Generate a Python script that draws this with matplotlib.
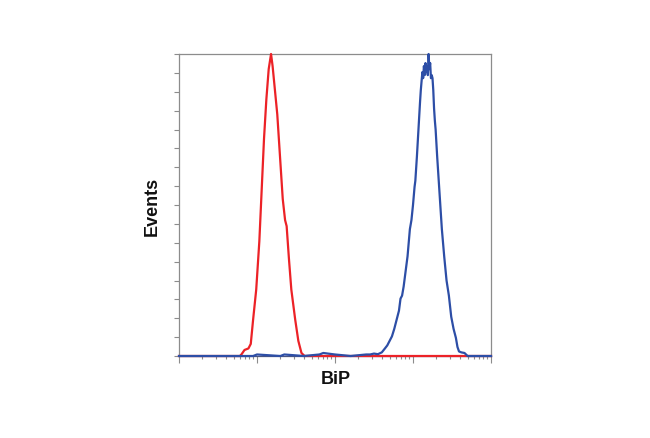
import matplotlib
matplotlib.use("Agg")
import matplotlib.pyplot as plt
from matplotlib.ticker import LogLocator, NullFormatter, FixedLocator
import numpy as np

# Log10 positions of intensity and % of max events
red_log_x = [0.00, 0.78, 0.80, 0.84, 0.89, 0.92, 0.95, 0.99, 1.03, 1.06, 1.09, 1.12, 1.15, 1.18,
             1.20, 1.23, 1.26, 1.29, 1.33, 1.36, 1.38, 1.41, 1.44, 1.49, 1.53, 1.57, 1.61, 4.00]
red_y = [0, 0, 0.5, 2, 2.5, 4, 12, 22, 38, 55, 72, 85, 95, 100,
         96, 88, 80, 68, 52, 45, 43, 32, 22, 12, 5, 1, 0, 0]

blue_log_x = [0.00, 0.95, 1.00, 1.30, 1.35, 1.60, 1.80, 1.85, 2.00, 2.20, 2.40, 2.45, 2.50, 2.55,
              2.60, 2.64, 2.67, 2.70, 2.73, 2.76, 2.79, 2.82, 2.84, 2.86, 2.88, 2.90, 2.93,
              2.96, 2.98, 3.00, 3.02, 3.03, 3.05, 3.07, 3.09, 3.10, 3.11, 3.12, 3.13, 3.14,
              3.15, 3.16, 3.17, 3.18, 3.19, 3.20, 3.21, 3.22, 3.23, 3.24, 3.25, 3.26, 3.27,
              3.28, 3.29, 3.31, 3.33, 3.35, 3.37, 3.40, 3.43, 3.46, 3.49, 3.52, 3.55, 3.57,
              3.59, 3.62, 3.66, 3.70, 4.00]
blue_y = [0, 0, 0.5, 0, 0.5, 0, 0.5, 1, 0.5, 0, 0.5, 0.5, 0.8, 0.6,
          1.2, 2.5, 3.5, 5, 6.5, 9, 12, 15, 19, 20, 23, 27, 33,
          42, 45, 50, 56, 58, 66, 75, 84, 88, 91, 94, 92, 96,
          93, 97, 94, 96, 93, 100, 95, 97, 92, 93, 92, 88, 82,
          78, 75, 66, 58, 50, 42, 33, 25, 20, 13, 9, 6, 3,
          1.5, 1.2, 1, 0, 0]

x_label = "BiP"
y_label = "Events"

fig = plt.figure(figsize=(6.5, 4.38), dpi=100)
ax = fig.add_axes([179/650, 1-356/438, 312/650, 302/438])

ax.plot(10**np.array(red_log_x), red_y, color="#ec2227", lw=1.6, clip_on=False, zorder=3)
ax.plot(10**np.array(blue_log_x), blue_y, color="#2d4ea6", lw=1.6, clip_on=False, zorder=4)

ax.set_xscale("log")
ax.set_xlim(1, 1e4)
ax.set_ylim(0, 100)

ax.xaxis.set_major_locator(LogLocator(base=10, numticks=10))
ax.xaxis.set_minor_locator(LogLocator(base=10, subs=np.arange(2, 10), numticks=20))
ax.xaxis.set_major_formatter(NullFormatter())
ax.xaxis.set_minor_formatter(NullFormatter())
ax.yaxis.set_major_locator(FixedLocator(np.linspace(0, 100, 17)))
ax.yaxis.set_major_formatter(NullFormatter())

gray = "#8c8c8c"
for s in ax.spines.values():
    s.set_color(gray)
    s.set_linewidth(0.9)
ax.spines["bottom"].set_color("#4a5580")

ax.tick_params(axis="x", which="major", direction="out", length=5, width=0.8, color=gray)
ax.tick_params(axis="x", which="minor", direction="out", length=2.5, width=0.8, color=gray)
ax.tick_params(axis="y", which="major", direction="out", length=3.5, width=0.8, color=gray)

font = ["Liberation Sans", "DejaVu Sans"]
fig.text(336/650, 1-379/438, x_label, fontsize=13, fontweight="bold", family=font,
         ha="center", va="center", color="#111111")
fig.text(152.5/650, 1-206.5/438, y_label, fontsize=13, fontweight="bold", family=font,
         ha="center", va="center", rotation=90, color="#111111")

fig.savefig("out.png", dpi=100)
